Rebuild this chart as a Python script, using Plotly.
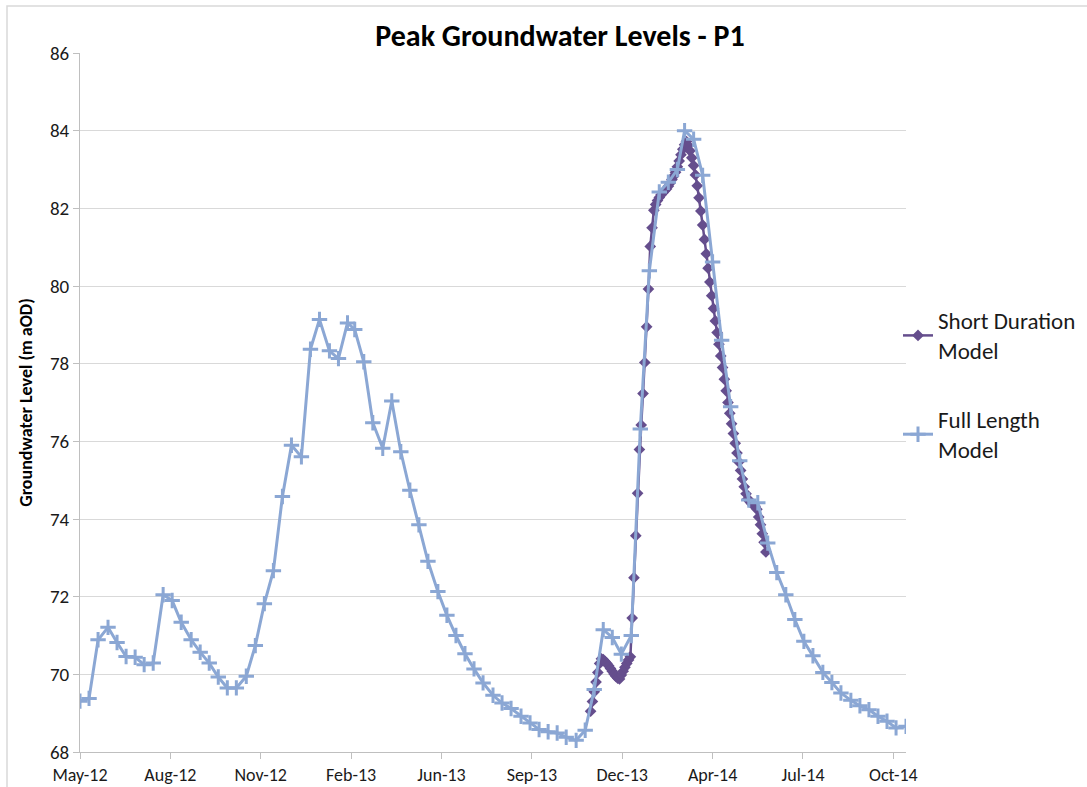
import pandas as pd
import plotly.graph_objects as go

# ---------------- data ----------------
# Full Length Model: 3 values per month (1st, 11th, 21st), May-2012 .. 1-Nov-2014
full_start_month = "2012-05"
full_months = 30
full_days_in_month = [1, 11, 21]
full_levels = [
    69.31, 69.38, 70.89, 71.21, 70.82, 70.46, 70.44, 70.25, 70.29, 72.05,
    71.90, 71.34, 70.89, 70.57, 70.29, 69.93, 69.65, 69.65, 69.95, 70.74,
    71.82, 72.67, 74.58, 75.90, 75.60, 78.37, 79.14, 78.33, 78.13, 79.05,
    78.88, 78.05, 76.48, 75.82, 77.04, 75.73, 74.74, 73.85, 72.91, 72.13,
    71.52, 71.00, 70.53, 70.14, 69.78, 69.46, 69.26, 69.12, 68.92, 68.75,
    68.58, 68.52, 68.49, 68.38, 68.30, 68.56, 69.61, 71.15, 70.95, 70.52,
    71.00, 76.32, 80.39, 82.42, 82.67, 83.00, 84.00, 83.78, 82.85, 80.62,
    78.60, 76.89, 75.50, 74.49, 74.42, 73.38, 72.62, 72.05, 71.41, 70.85,
    70.48, 70.05, 69.79, 69.52, 69.33, 69.19, 69.09, 68.92, 68.79, 68.62,
    68.66,
]

# Short Duration Model: every 2 days from 17-Nov-2013
short_start = "2013-11-17"
short_step = "2D"
short_levels = [
    69.05, 69.30, 69.55, 69.80, 70.05, 70.28, 70.40, 70.38, 70.33, 70.28,
    70.22, 70.15, 70.08, 70.01, 69.95, 69.90, 69.88, 69.98, 70.08, 70.18,
    70.28, 70.37, 70.45, 71.45, 72.49, 73.57, 74.66, 75.79, 76.42, 77.23,
    78.03, 78.95, 79.92, 81.02, 81.50, 81.95, 82.10, 82.20, 82.28, 82.35,
    82.40, 82.45, 82.50, 82.57, 82.65, 82.74, 82.83, 82.93, 83.07, 83.22,
    83.38, 83.52, 83.64, 83.72, 83.62, 83.48, 83.30, 83.10, 82.86, 82.58,
    82.27, 81.93, 81.57, 81.20, 80.83, 80.46, 80.10, 79.75, 79.42, 79.10,
    78.80, 78.50, 78.20, 77.90, 77.60, 77.30, 77.00, 76.72, 76.45, 76.20,
    75.95, 75.70, 75.47, 75.25, 75.03, 74.83, 74.65, 74.52, 74.45, 74.40,
    74.37, 74.33, 74.25, 74.05, 73.85, 73.62, 73.40, 73.15,
]

# x axis: Excel date axis, major unit 100 days from 1-May-2012
axis_start = "2012-05-01"
axis_end = "2014-11-01"
tick_step_days = 100
x_tick_labels = ["May-12", "Aug-12", "Nov-12", "Feb-13", "Jun-13",
                 "Sep-13", "Dec-13", "Apr-14", "Jul-14", "Oct-14"]
y_ticks = [68, 70, 72, 74, 76, 78, 80, 82, 84, 86]

series_names = ["Short Duration<br>Model", "Full Length<br>Model"]
title_text = "Peak Groundwater Levels - P1"
y_title = "Groundwater Level (m aOD)"

# ---------------- build ----------------
months = pd.period_range(full_start_month, periods=full_months, freq="M")
full_dates = [pd.Timestamp(year=m.year, month=m.month, day=d) for m in months for d in full_days_in_month]
full_dates.append(pd.Timestamp(axis_end))
full_dates = full_dates[:len(full_levels)]

short_dates = pd.date_range(short_start, periods=len(short_levels), freq=short_step)

tick_dates = [pd.Timestamp(axis_start) + pd.Timedelta(days=tick_step_days * i) for i in range(len(x_tick_labels))]

FONT = "Calibri, Carlito, Lato, sans-serif"
BLUE = "#8BA7D4"
PURPLE = "#654E8D"
GRID = "#D9D9D9"
TXT = "#1a1a1a"

fig = go.Figure()
fig.add_trace(go.Scatter(
    x=short_dates, y=short_levels, name=series_names[0], mode="lines+markers",
    line=dict(color=PURPLE, width=2.5),
    marker=dict(symbol="diamond", size=9, color=PURPLE),
    legendgroup="a",
))
fig.add_trace(go.Scatter(
    x=full_dates, y=full_levels, name=series_names[1], mode="lines+markers",
    line=dict(color=BLUE, width=3),
    marker=dict(symbol="cross-thin", size=11, color=BLUE, line=dict(color=BLUE, width=3)),
    legendgroup="b",
))

L, R, T, B = 80, 181, 53, 35
W, H = 1087, 787
pw, ph = W - L - R, H - T - B

def px_x(p):
    return (p - L) / pw

def px_y(p):
    return (H - B - p) / ph

fig.update_layout(
    width=W, height=H,
    margin=dict(l=L, r=R, t=T, b=B, autoexpand=False),
    paper_bgcolor="white", plot_bgcolor="white",
    font=dict(family=FONT, color=TXT, size=18),
    title=dict(text="<b>" + title_text + "</b>", x=560 / W, xref="container", xanchor="center",
               y=1 - 35 / H, yref="container", yanchor="middle",
               font=dict(family=FONT, size=30, color="#000000")),
    showlegend=True,
    legend=dict(x=px_x(898), y=px_y(299), xanchor="left", yanchor="top",
                font=dict(family=FONT, size=23, color=TXT),
                traceorder="grouped", tracegroupgap=36,
                bgcolor="rgba(0,0,0,0)"),
    shapes=[dict(type="rect", xref="paper", yref="paper",
                 x0=px_x(7), x1=px_x(1200), y0=px_y(900), y1=px_y(6),
                 line=dict(color=GRID, width=1.5), fillcolor="rgba(0,0,0,0)", layer="below")],
)
fig.update_xaxes(
    type="date", range=[axis_start, axis_end], automargin=False,
    tickmode="array", tickvals=tick_dates, ticktext=x_tick_labels,
    showgrid=False, showline=True, linecolor="#BFBFBF", linewidth=1,
    ticks="outside", ticklen=6, tickcolor="#BFBFBF",
    tickfont=dict(family=FONT, size=18, color=TXT),
)
fig.update_yaxes(
    range=[68, 86], tickmode="array", tickvals=y_ticks, automargin=False,
    showgrid=True, gridcolor=GRID, gridwidth=1,
    showline=True, linecolor="#BFBFBF", linewidth=1,
    ticks="outside", ticklen=6, tickcolor="#BFBFBF",
    zeroline=False,
    tickfont=dict(family=FONT, size=19, color=TXT),
    title=dict(text="<b>" + y_title + "</b>", font=dict(family=FONT, size=18, color="#000000"),
               standoff=12),
)

fig.write_html("out.html", config={"displayModeBar": False},
               post_script="document.body.style.margin='0px';")
